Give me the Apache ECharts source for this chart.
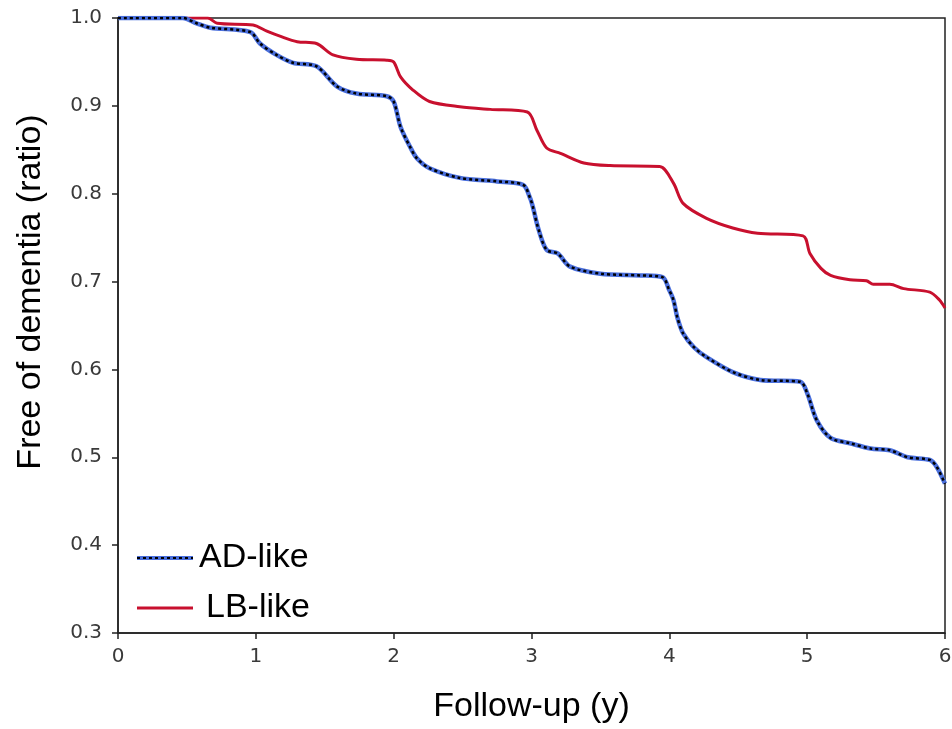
<!DOCTYPE html>
<html>
<head>
<meta charset="utf-8">
<script src="https://cdn.jsdelivr.net/npm/echarts@6/dist/echarts.min.js"></script>
<style>
  html, body { margin: 0; padding: 0; background: #fff; }
  #chart { width: 952px; height: 729px; }
</style>
</head>
<body>
<div id="chart"></div>
<script>
// AD-like curve (blue with black dots)
const adTime = [0, 0.47, 0.57, 0.67, 0.96, 1.03, 1.15, 1.27, 1.44, 1.59, 1.73, 1.95, 2.0, 2.05, 2.12, 2.17, 2.26, 2.48, 2.75, 2.94, 2.99, 3.01, 3.05, 3.11, 3.19, 3.28, 3.5, 3.79, 3.95, 4.0, 4.03, 4.06, 4.1, 4.18, 4.27, 4.46, 4.66, 4.95, 5.0, 5.07, 5.17, 5.31, 5.46, 5.6, 5.73, 5.89, 5.94, 6.0];
const adSurv = [1.0, 1.0, 0.994, 0.989, 0.984, 0.971, 0.958, 0.949, 0.945, 0.922, 0.914, 0.911, 0.905, 0.876, 0.853, 0.840, 0.829, 0.818, 0.814, 0.810, 0.795, 0.785, 0.760, 0.736, 0.732, 0.717, 0.709, 0.707, 0.705, 0.690, 0.679, 0.658, 0.641, 0.625, 0.614, 0.597, 0.588, 0.586, 0.573, 0.542, 0.522, 0.516, 0.510, 0.508, 0.500, 0.497, 0.489, 0.470];

// LB-like curve (red)
const lbTime = [0, 0.65, 0.72, 0.98, 1.08, 1.18, 1.3, 1.44, 1.56, 1.73, 1.95, 2.0, 2.05, 2.14, 2.26, 2.48, 2.7, 2.97, 3.04, 3.11, 3.21, 3.38, 3.57, 3.93, 4.03, 4.1, 4.27, 4.46, 4.64, 4.97, 5.02, 5.1, 5.17, 5.31, 5.43, 5.48, 5.6, 5.7, 5.89, 5.96, 6.0];
const lbSurv = [1.0, 1.0, 0.994, 0.992, 0.985, 0.979, 0.973, 0.971, 0.958, 0.953, 0.952, 0.950, 0.933, 0.918, 0.905, 0.899, 0.896, 0.893, 0.872, 0.852, 0.846, 0.835, 0.832, 0.831, 0.812, 0.789, 0.772, 0.761, 0.755, 0.752, 0.732, 0.715, 0.707, 0.702, 0.701, 0.697, 0.697, 0.692, 0.688, 0.679, 0.670];

const zip = (xs, ys) => xs.map((x, i) => [x, ys[i]]);

const blue = '#4a6fdc';
const red = '#c8102e';
const tickFont = { fontFamily: 'DejaVu Sans', fontSize: 20, color: '#3a3a3a' };
const nameFont = { fontFamily: 'Liberation Sans', fontSize: 34, color: '#000' };

const chart = echarts.init(document.getElementById('chart'));
chart.setOption({
  animation: false,
  grid: {
    left: 118, top: 18, right: 7, bottom: 96,
    outerBoundsMode: 'none',
    show: true, borderColor: '#222', borderWidth: 1.5
  },
  xAxis: {
    type: 'value', min: 0, max: 6, interval: 1,
    name: 'Follow-up (y)', nameLocation: 'middle', nameGap: 57,
    nameTextStyle: nameFont,
    axisLine: { lineStyle: { color: '#222', width: 1.5 } },
    axisTick: { show: true, length: 6, lineStyle: { color: '#222', width: 1.5 } },
    axisLabel: Object.assign({ margin: 14 }, tickFont),
    splitLine: { show: false }
  },
  yAxis: {
    type: 'value', min: 0.3, max: 1.0, interval: 0.1,
    axisLine: { show: true, lineStyle: { color: '#222', width: 1.5 } },
    axisTick: { show: true, length: 6, lineStyle: { color: '#222', width: 1.5 } },
    axisLabel: Object.assign({ margin: 16, formatter: v => v.toFixed(1) }, tickFont),
    splitLine: { show: false }
  },
  series: [
    {
      name: 'LB-like', type: 'line', data: zip(lbTime, lbSurv),
      showSymbol: false, smooth: 0.3,
      lineStyle: { color: red, width: 3 }
    },
    {
      name: 'AD-like', type: 'line', data: zip(adTime, adSurv),
      showSymbol: false, smooth: 0.3,
      lineStyle: { color: blue, width: 4.5 }
    },
    {
      name: 'AD-like dots', type: 'line', data: zip(adTime, adSurv),
      showSymbol: false, smooth: 0.3,
      lineStyle: { color: '#000', width: 2.5, type: [3, 3] }
    }
  ],
  graphic: [
    { type: 'text', x: 31, y: 292, rotation: Math.PI / 2,
      style: { text: 'Free of dementia (ratio)', fill: '#000', align: 'center', verticalAlign: 'middle',
        fontFamily: nameFont.fontFamily, fontSize: nameFont.fontSize } },
    { type: 'line', shape: { x1: 137, y1: 558, x2: 193, y2: 558 }, style: { stroke: blue, lineWidth: 4 } },
    { type: 'line', shape: { x1: 137, y1: 558, x2: 193, y2: 558 }, style: { stroke: '#000', lineWidth: 2, lineDash: [3, 3] } },
    { type: 'text', x: 199, y: 558, style: { text: 'AD-like', fontFamily: 'Liberation Sans', fontSize: 34, fill: '#000', verticalAlign: 'middle' } },
    { type: 'line', shape: { x1: 137, y1: 608, x2: 193, y2: 608 }, style: { stroke: red, lineWidth: 3 } },
    { type: 'text', x: 206, y: 608, style: { text: 'LB-like', fontFamily: 'Liberation Sans', fontSize: 34, fill: '#000', verticalAlign: 'middle' } }
  ]
});
</script>
</body>
</html>
